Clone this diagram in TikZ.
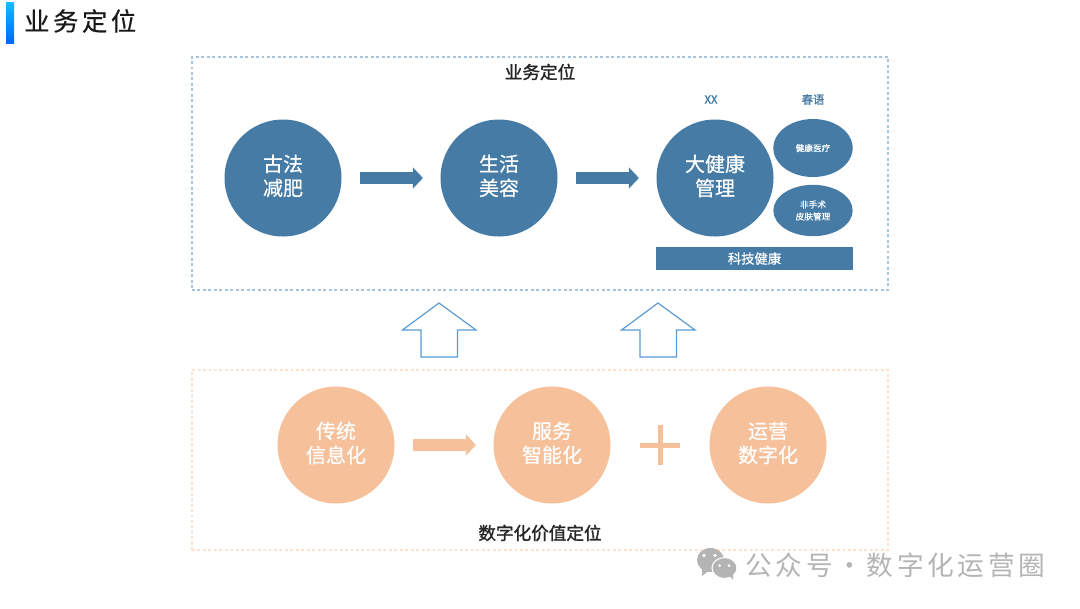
\documentclass[tikz,border=0pt]{standalone}
\usepackage{fontspec}
\usetikzlibrary{arrows.meta,shapes.geometric}
\setmainfont{Noto Sans CJK SC}
\newfontfamily\semi[FakeBold=0.6]{Noto Sans CJK SC}
\newfontfamily\semib[FakeBold=1.5]{Noto Sans CJK SC}
\newfontfamily\wide[LetterSpace=14,FakeBold=0.5]{Noto Sans CJK SC}
\newfontfamily\widem[LetterSpace=14]{Noto Sans CJK SC}
\definecolor{bluefill}{HTML}{457BA5}
\definecolor{orangefill}{HTML}{F5C09A}
\definecolor{bluedash}{HTML}{A6C4DC}
\definecolor{orangedash}{HTML}{FDE2CF}
\definecolor{uparrow}{HTML}{5B9BD5}
\definecolor{markgray}{HTML}{B4B4B4}
\newcommand{\twoline}[2]{\raisebox{-0.5pt}[\height][\depth]{\begin{tabular}{@{}c@{}}#1\\#2\end{tabular}}}
\tikzset{
  x=0.75pt,y=-0.75pt,
  bigcirc/.style={circle,minimum size=87.75pt,inner sep=0pt,text=white,align=center,
    font=\fontsize{15}{18}\selectfont\semi},
  bluecirc/.style={bigcirc,fill=bluefill},
  orangecirc/.style={bigcirc,fill=orangefill},
  sidepill/.style={ellipse,fill=bluefill,text=white,align=center,inner sep=0pt,
    font=\fontsize{6.5}{9}\selectfont\semi},
  headlabel/.style={text=bluefill,font=\fontsize{8.5}{10}\selectfont\semib},
  framelabel/.style={text=black!85,font=\fontsize{13.2}{15}\selectfont\semib},
  frameblue/.style={draw=bluedash,line width=0.8pt,dash pattern=on 2.2pt off 1.9pt},
  frameorange/.style={draw=orangedash,line width=0.8pt,dash pattern=on 2.2pt off 1.9pt},
  flowblue/.style={draw=bluefill,line width=8.5pt,shorten <=13.5pt,shorten >=13pt,
    -{Triangle[length=7.5pt,width=15.5pt]}},
  floworange/.style={draw=orangefill,line width=8.5pt,shorten <=13.5pt,shorten >=13pt,
    -{Triangle[length=7.5pt,width=15.5pt]}},
  hollowup/.style={draw=uparrow,line width=0.9pt,fill=white,line join=miter},
}
\begin{document}
\begin{tikzpicture}
\useasboundingbox (0,0) rectangle (1080,608);
\fill[white] (0,0) rectangle (1080,608);

% header
\shade[top color=cyan!70!blue!90,bottom color=blue!60!cyan] (6,2) rectangle (14,43);
\node[anchor=west,inner sep=0pt,text=black!90,font=\fontsize{19}{22}\selectfont\wide] (title) at (24,21) {业务定位};

% frames
\node[frameblue,minimum width=522pt,minimum height=174.75pt,inner sep=0pt] (topframe) at (540,173.5) {};
\node[frameorange,minimum width=522pt,minimum height=135pt,inner sep=0pt] (botframe) at (540,460) {};
\node[framelabel] (toplabel) at (540,72) {业务定位};
\node[framelabel] (botlabel) at (540,533) {数字化价值定位};

% top row
\node[bluecirc] (c1) at (283,178) {\twoline{古法}{减肥}};
\node[bluecirc] (c2) at (499,178) {\twoline{生活}{美容}};
\node[bluecirc] (c3) at (715,178) {\twoline{大健康}{管理}};
\draw[flowblue] (c1) -- (c2);
\draw[flowblue] (c2) -- (c3);

\node[sidepill,minimum width=59.5pt,minimum height=43.5pt] (e1) at (813,148) {健康医疗};
\node[sidepill,minimum width=59.5pt,minimum height=38.5pt] (e2) at (813,210.5) {非手术\\皮肤管理};
\node[headlabel] (xx) at (711,99.5) {XX};
\node[headlabel] (cy) at (813,99.5) {春语};
\node[fill=bluefill,text=white,minimum width=147.75pt,minimum height=17.25pt,inner sep=0pt,
  font=\fontsize{10}{11}\selectfont\semi] (bar) at (754.5,258.5) {科技健康};

% hollow up arrows
\draw[hollowup] (439,303) -- (476,330) -- (457.5,330) -- (457.5,357) -- (421,357) -- (421,330) -- (402.5,330) -- cycle;
\draw[hollowup] (658,303) -- (695,330) -- (676.5,330) -- (676.5,357) -- (640,357) -- (640,330) -- (621.5,330) -- cycle;

% bottom row
\node[orangecirc] (d1) at (336,445) {\twoline{传统}{信息化}};
\node[orangecirc] (d2) at (552,445) {\twoline{服务}{智能化}};
\node[orangecirc] (d3) at (768,445) {\twoline{运营}{数字化}};
\draw[floworange] (d1) -- (d2);
\fill[orangefill] (657.5,425) rectangle (662.5,465);
\fill[orangefill] (640,442.5) rectangle (680,447.5);

% watermark
\fill[markgray] (710.5,560) ellipse [x radius=13.5,y radius=12];
\fill[markgray] (702,568) -- (702,576) -- (710,570) -- cycle;
\fill[white] (704,555.5) circle (1.8);
\fill[white] (715,555.5) circle (1.8);
\fill[markgray,draw=white,line width=0.8pt] (724.5,568) ellipse [x radius=12.5,y radius=10.5];
\fill[markgray] (729,575) -- (733,580) -- (733,573) -- cycle;
\fill[white] (719.5,565.5) circle (1.5);
\fill[white] (729,565.5) circle (1.5);
\node[anchor=west,inner sep=0pt,text=markgray,font=\fontsize{20}{24}\selectfont\widem] (mark) at (745,565) {公众号\hspace{3pt}·\hspace{2.5pt}数字化运营圈};
\end{tikzpicture}
\end{document}
